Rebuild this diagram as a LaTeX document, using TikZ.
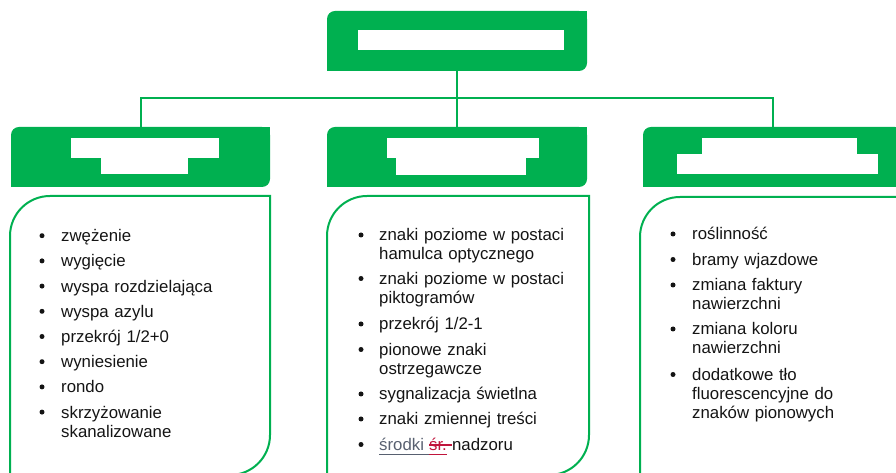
\documentclass[tikz,border=0pt]{standalone}
\usepackage{fontspec}
\setmainfont{Liberation Sans}
\usetikzlibrary{calc}
\definecolor{brand}{RGB}{0,176,80}
\definecolor{linkgrey}{RGB}{88,96,112}
\definecolor{redc}{RGB}{192,20,60}
\definecolor{ink}{RGB}{20,20,20}
\begin{document}
\begin{tikzpicture}[x=1pt,y=1pt,
  hdr/.style={fill=brand, rounded corners=8pt, minimum width=260pt, minimum height=60pt, inner sep=0pt},
  link/.style={draw=brand, line width=2pt},
  panel/.style={draw=brand, line width=2pt},
  item/.style={anchor=base west, inner sep=0pt, text width=220pt, align=left,
    font=\fontsize{16.8pt}{19pt}\selectfont, text=ink},
  word/.style={anchor=base west, inner sep=0pt, font=\fontsize{16.8pt}{19pt}\selectfont},
  dot/.style={circle, fill=ink, inner sep=0pt, minimum size=5pt}
]
\useasboundingbox (0,0) rectangle (896,473);
\begin{scope}
\clip (0,0) rectangle (896,473);

% header boxes: rounded top-left and bottom-right corners only
\node[hdr] (top) at (457,432) {};
\node[hdr, minimum width=259pt] (hl) at (140.5,316) {};
\node[hdr] (hm) at (457,316) {};
\node[hdr] (hr) at (773,316) {};
\foreach \n in {top,hl,hm,hr}{
  \fill[brand] (\n.north east) rectangle ++(-10,-10);
  \fill[brand] (\n.south west) rectangle ++(10,10);
}

% blanked-out titles
\fill[white] (358,423) rectangle (564,443);
\fill[white] (71,315) rectangle (219,335);
\fill[white] (101,299) rectangle (188,315.5);
\fill[white] (387,315) rectangle (539,335);
\fill[white] (396,298) rectangle (526,315.5);
\fill[white] (702,318) rectangle (857,335);
\fill[white] (677,299) rectangle (878,318.5);

% tree connectors
\coordinate (bus) at (457,375);
\draw[link] (top.south) -- (hm.north);
\draw[link] (hl.north) |- (bus) -| (hr.north);

% content panels
\draw[panel] (10,-2) -- (10,237) arc[start angle=180,end angle=90,radius=40]
  -- (270,277) -- (270,38) arc[start angle=0,end angle=-90,radius=40] -- cycle;
\draw[panel] (327,-2) -- (327,237) arc[start angle=180,end angle=90,radius=40]
  -- (589,277) -- (589,38) arc[start angle=0,end angle=-90,radius=40] -- cycle;
\draw[panel] (640,-2) -- (640,236) arc[start angle=180,end angle=90,radius=40]
  -- (900,276);

% left list
\foreach \y/\t [count=\i] in {231.3/zwężenie, 206.1/wygięcie, 180.9/wyspa rozdzielająca,
  155.7/wyspa azylu, 130.5/{przekrój 1/2+0}, 105.3/wyniesienie, 80.1/rondo,
  54.9/{skrzyżowanie\\skanalizowane}}{
  \node[item] (l\i) at (61,\y) {\t};
  \node[dot] (ld\i) at (42,\y+6) {};
}

% middle list
\foreach \y/\t [count=\i] in {232/{znaki poziome w postaci\\hamulca optycznego},
  188.5/{znaki poziome w postaci\\piktogramów}, 143/{przekrój 1/2-1},
  117.5/{pionowe znaki\\ostrzegawcze}, 73/sygnalizacja świetlna,
  48/znaki zmiennej treści}{
  \node[item] (m\i) at (379,\y) {\t};
  \node[dot] (md\i) at (361,\y+6) {};
}
\node[dot] (md7) at (361,28.5) {};
\node[word, text=linkgrey] (sA) at (379,22.5) {środki};
\node[word, text=redc] (sB) at ($(sA.base east)+(4.7,0)$) {śr.};
\node[word, text=ink] (sC) at ($(sB.base east)+(4.9,0)$) {nadzoru};
\draw[linkgrey, line width=0.9pt] ($(sA.base west)+(0,-3.5)$) -- ($(sB.base west)+(0,-3.5)$);
\draw[redc, line width=0.9pt] ($(sB.base west)+(0,-3.5)$) -- ($(sB.base east)+(0,-3.5)$);
\draw[redc, line width=1.2pt] ($(sB.base west)+(0,5.5)$) -- ($(sC.base west)+(0,5.5)$);

% right list
\foreach \y/\t [count=\i] in {233/roślinność, 207.5/bramy wjazdowe,
  182/{zmiana faktury\\nawierzchni}, 138/{zmiana koloru\\nawierzchni},
  92.5/{dodatkowe tło\\fluorescencyjne do\\znaków pionowych}}{
  \node[item] (r\i) at (692,\y) {\t};
  \node[dot] (rd\i) at (673,\y+6) {};
}
\end{scope}
\end{tikzpicture}
\end{document}
